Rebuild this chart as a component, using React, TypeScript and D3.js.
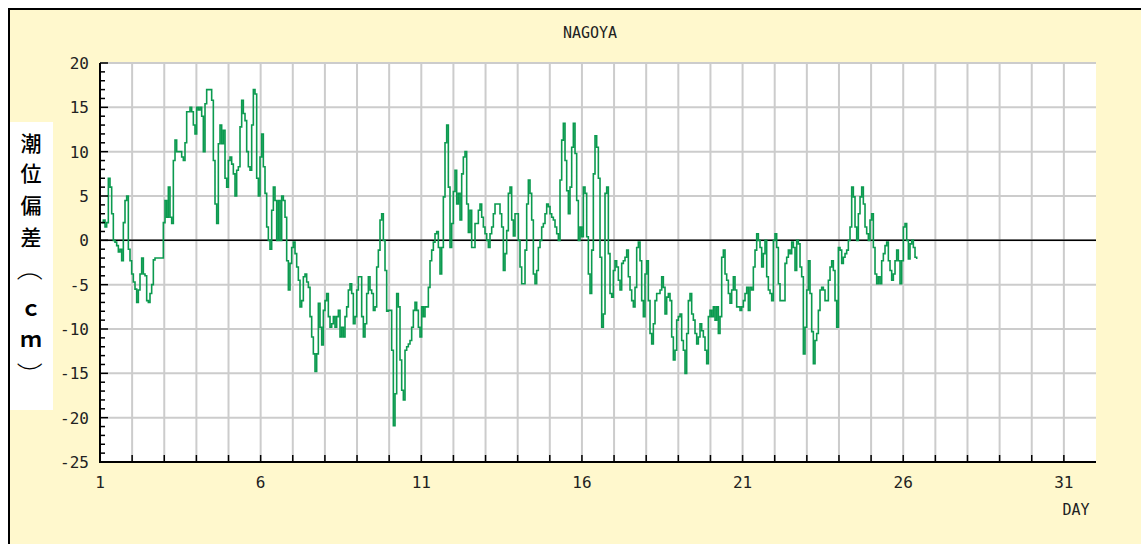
import React from 'react';
import * as d3 from 'd3';

const TITLE = 'NAGOYA';
const X_AXIS_LABEL = 'DAY';
const Y_LABEL_CHARS = ['潮', '位', '偏', '差', '（', 'ｃ', 'ｍ', '）'];
const X_TICK_LABELS = [1, 6, 11, 16, 21, 26, 31];
const Y_TICK_LABELS = [20, 15, 10, 5, 0, -5, -10, -15, -20, -25];

// Readings of the tide deviation (cm), taken every STEP_HOURS from START_HOUR (hours after day 1 00:00)
const START_HOUR = 1.25;
const STEP_HOURS = 1.245;

const devDay1to5 = [
  2, 2.3, 1.5, 2, 7, 6, 3, 0, -0.2, -0.6, -1.3, -1, -2.3, 2, 4.5, 5, -1, -2.3, -3.8, -4.7,
  -5.5, -7, -5.6, -3.8, -2, -3.8, -4, -6.8, -7, -6, -5, -2.2, -2, -2, -2, -2, -2, 2, 4.5, 2.6,
  6, 2.6, 1.9, 9, 11.3, 10, 10, 10, 9.4, 9, 11, 14.5, 14.5, 15, 14.5, 13, 12, 15, 14.7, 15,
  14, 10, 15.4, 17, 17, 17, 15.8, 9, 4.1, 1.9, 10.9, 13, 10.9, 12.4, 7, 6, 9, 9.4, 8.6, 7.5,
  5, 7.9, 8.3, 12.8, 15.8, 14.3,
];
const devDay5to10 = [
  13.5, 10, 8.3, 7.9, 13, 17, 16.5, 7, 5, 9.4, 12, 8.3, 5.3, 1.5, 0, -1, 3.4, 6, 4.5, 0,
  4.5, 0, 5, 4.5, 2.6, -2.3, -5.6, -2.6, -0.8, -0.2, -1.5, -3, -4.5, -7.5, -6.8, -4.1, -3.8, -4.7, -5.3, -8.6,
  -10.9, -12.8, -14.8, -12.8, -7.1, -9.8, -11.8, -7.9, -6.8, -6, -8.6, -9.8, -9.4, -8.6, -9.8, -8.6, -7.9, -10.9, -9.8, -10.9,
  -8.6, -7.5, -5.6, -4.9, -6, -9.4, -8.6, -5.6, -4.1, -4.1, -8.6, -10.9, -9.4, -6, -4.1, -5.6, -6, -7.9, -7.5, -3,
  -1.1, 2.3, 3, 0, -3.4,
];
const devDay10to14 = [
  -8, -7.9, -7.9, -12.4, -20.9, -17.3, -6, -7.5, -13.5, -16.9, -18, -12.4, -12, -11.7, -11.3, -9.8, -7.9, -7, -7.9, -9.8,
  -10.9, -7.5, -8.6, -7.5, -7.5, -5.3, -2.3, -1.1, -0.2, 0.75, 1, -0.8, -3.8, -0.8, 4.9, 11, 13, 6, -0.8, 1.9,
  5.5, 7.9, 4.1, 5.3, 2.3, 7.5, 9.4, 10, 4.1, 0.9, 3.4, -0.8, -0.8, 1.9, 1.9, 3.4, 4.1, 2.6, 1.5, 0.75,
  0, -0.8, 0.75, 1.5, 3, 4.1, 4.1, 4.1, 3, 1.5, -3.4, -1.5, 1.1, 5.3, 6, 2.3, 0.5, 3, 3, 0,
  -3, -4.9, -4.9, -1.1, 4.1, 6.8, 5.3,
];
const devDay14to19 = [
  2.3, -3.8, -4.9, -3.4, -0.8, 0, 1.5, 1.9, 3, 4.1, 3.8, 3, 2.6, 2.3, 1.5, 0.75, 0, 6.8, 11.3, 13.2,
  9, 5.6, 3, 6, 10.5, 13.2, 9.8, 4.5, 0, 1.5, 0.4, 6, 5.3, 0.4, -3.8, -6, -1.1, 7.5, 11.8, 10.5,
  7, -1.9, -9.8, -8.3, 5.3, 6, -1.5, -6, -6.4, -3.4, -2.3, -3, -4.5, -5.6, -2.6, -2.3, -1.9, -1.1, -4.1, -5.6,
  -6.8, -7.5, -5.3, -0.8, -0.2, -2.3, -6.8, -8.6, -3.8, -2.3, -6.8, -10.5, -11.7, -9.4, -6.8, -6, -6, -5.6, -4.1, -5.3,
  -8.3, -6.4, -6, -6.8, -10.9, -13.5, -12.4,
];
const devDay19to23 = [
  -9, -8.6, -8.3, -11.3, -12.4, -15, -10.5, -6.8, -6, -8.3, -9, -10.5, -11.7, -10.9, -9.4, -10.2, -10.9, -12.4, -13.9, -8.6,
  -7.9, -8.6, -7.5, -9, -7.5, -10.5, -8.6, -1.9, -1.1, -3.8, -4.5, -6, -7.1, -5.6, -4.1, -5.6, -7.5, -7.5, -7.9, -7.5,
  -6.8, -6, -5.3, -7.9, -5.3, -5.6, -3, -1.1, 0.75, 0, -0.8, -3, -1.5, 0, -4.1, -5.6, -6, -6.8, 0, 0.75,
  -0.8, -4.9, -6.8, -6.8, -6.8, -2.6, -1.9, -1.1, -1.5, -0.2, -0.8, -3.4, 0, -0.4, -3, -4.1, -12.8, -9.8, -5.6, -2.3,
  -6, -10.3, -13.9, -11.3, -10.5, -7.9, -5.6,
];
const devDay23to26 = [
  -5.3, -5.6, -6.8, -6.8, -4.5, -3, -2.3, -3.4, -6.8, -9.8, -0.8, -1.1, -2.6, -1.9, -1.5, -1.1, 0, 1.5, 6, 4.9,
  1.5, 0, 3, 4.9, 6, 4.1, 1.5, 0.75, 0, 2.3, 3, -0.8, -3.8, -4.9, -4.1, -4.9, -2.3, -1.5, -0.6, -0.2,
  -2.3, -3.4, -4.5, -3.8, -2.3, -1.1, -2.3, -4.9, -2.3, 1.5, 1.9, 0, -2.1, -0.4, 0, -0.8, -1.9, -2.1,
];

const DEVIATION = [
  ...devDay1to5, ...devDay5to10, ...devDay10to14, ...devDay14to19, ...devDay19to23, ...devDay23to26,
];

const W = 1141;
const H = 544;
const PL = 100, PR = 1096, PT = 63, PB = 462;
const MONO = '"DejaVu Sans Mono", "Liberation Mono", monospace';
const CJK = '"Noto Sans CJK JP", "Noto Sans CJK SC", sans-serif';

export default function App() {
  const x = d3.scaleLinear().domain([1, 32]).range([PL, PR]);
  const y = d3.scaleLinear().domain([-25, 20]).range([PB, PT]);

  const pts: [number, number][] = DEVIATION.map((v, i) => [1 + (START_HOUR + i * STEP_HOURS) / 24, v]);
  const line = d3.line<[number, number]>().x(d => x(d[0])).y(d => y(d[1])).curve(d3.curveStepAfter);

  const days = d3.range(2, 32);
  const minorY = d3.range(-25, 21);
  const gridY = Y_TICK_LABELS.filter(v => v !== -25);

  const yLabelCenters = [142, 172, 204, 236, 268, 307, 338, 375];

  return (
    <svg width={W} height={H} style={{ position: 'absolute', left: 0, top: 0, background: '#fff' }}>
      <rect x={0} y={0} width={W} height={H} fill="#ffffff" />
      <rect x={9} y={9} width={W - 9} height={H - 9} fill="#fff8cd" />
      <line x1={8} y1={9} x2={W} y2={9} stroke="#000" strokeWidth={2} />
      <line x1={9} y1={8} x2={9} y2={H} stroke="#000" strokeWidth={2} />

      <text x={590} y={38} textAnchor="middle" fontFamily={MONO} fontSize={15} fill="#222">{TITLE}</text>

      <rect x={PL} y={PT} width={PR - PL} height={PB - PT} fill="#ffffff" />
      {gridY.map(v => (
        <line key={'gy' + v} x1={PL} x2={PR} y1={y(v)} y2={y(v)} stroke="#cccccc" strokeWidth={2} />
      ))}
      {days.map(d => (
        <line key={'gx' + d} x1={x(d)} x2={x(d)} y1={PT} y2={PB} stroke="#cccccc" strokeWidth={2} />
      ))}

      <line x1={PL} x2={PR} y1={y(0)} y2={y(0)} stroke="#000" strokeWidth={1.5} />

      <path d={line(pts) || ''} fill="none" stroke="#0b9a4f" strokeWidth={1.6} strokeLinejoin="miter" />

      {minorY.map(v => (
        <line key={'ty' + v} x1={PL} x2={PL + (v % 5 === 0 ? 8 : 5)} y1={y(v)} y2={y(v)} stroke="#000" strokeWidth={1.5} />
      ))}
      {days.map(d => (
        <line key={'tx' + d} x1={x(d)} x2={x(d)} y1={PB} y2={PB - 7} stroke="#000" strokeWidth={1.5} />
      ))}
      <line x1={PL} x2={PL} y1={PT} y2={PB + 1} stroke="#000" strokeWidth={2} />
      <line x1={PL - 1} x2={PR} y1={PB} y2={PB} stroke="#000" strokeWidth={2} />

      {Y_TICK_LABELS.map(v => (
        <text key={'yl' + v} x={89} y={y(v) + 6} textAnchor="end" fontFamily={MONO} fontSize={16} fill="#222">{v}</text>
      ))}
      {X_TICK_LABELS.map(d => (
        <text key={'xl' + d} x={x(d)} y={488} textAnchor="middle" fontFamily={MONO} fontSize={16} fill="#222">{d}</text>
      ))}
      <text x={1076} y={515} textAnchor="middle" fontFamily={MONO} fontSize={15} fill="#222">{X_AXIS_LABEL}</text>

      <rect x={10} y={122} width={43} height={288} fill="#ffffff" />
      {Y_LABEL_CHARS.map((c, i) => {
        const cy = yLabelCenters[i];
        const isParen = c === '（' || c === '）';
        const isLatin = c === 'ｃ' || c === 'ｍ';
        return (
          <text
            key={'yc' + i}
            x={31}
            y={cy}
            textAnchor="middle"
            dominantBaseline="central"
            fontFamily={CJK}
            fontSize={isParen ? 26 : 21}
            fontWeight={isParen ? 300 : isLatin ? 700 : 500}
            fill="#000"
            transform={isParen ? `rotate(90 31 ${cy})` : undefined}
          >
            {c}
          </text>
        );
      })}
    </svg>
  );
}
